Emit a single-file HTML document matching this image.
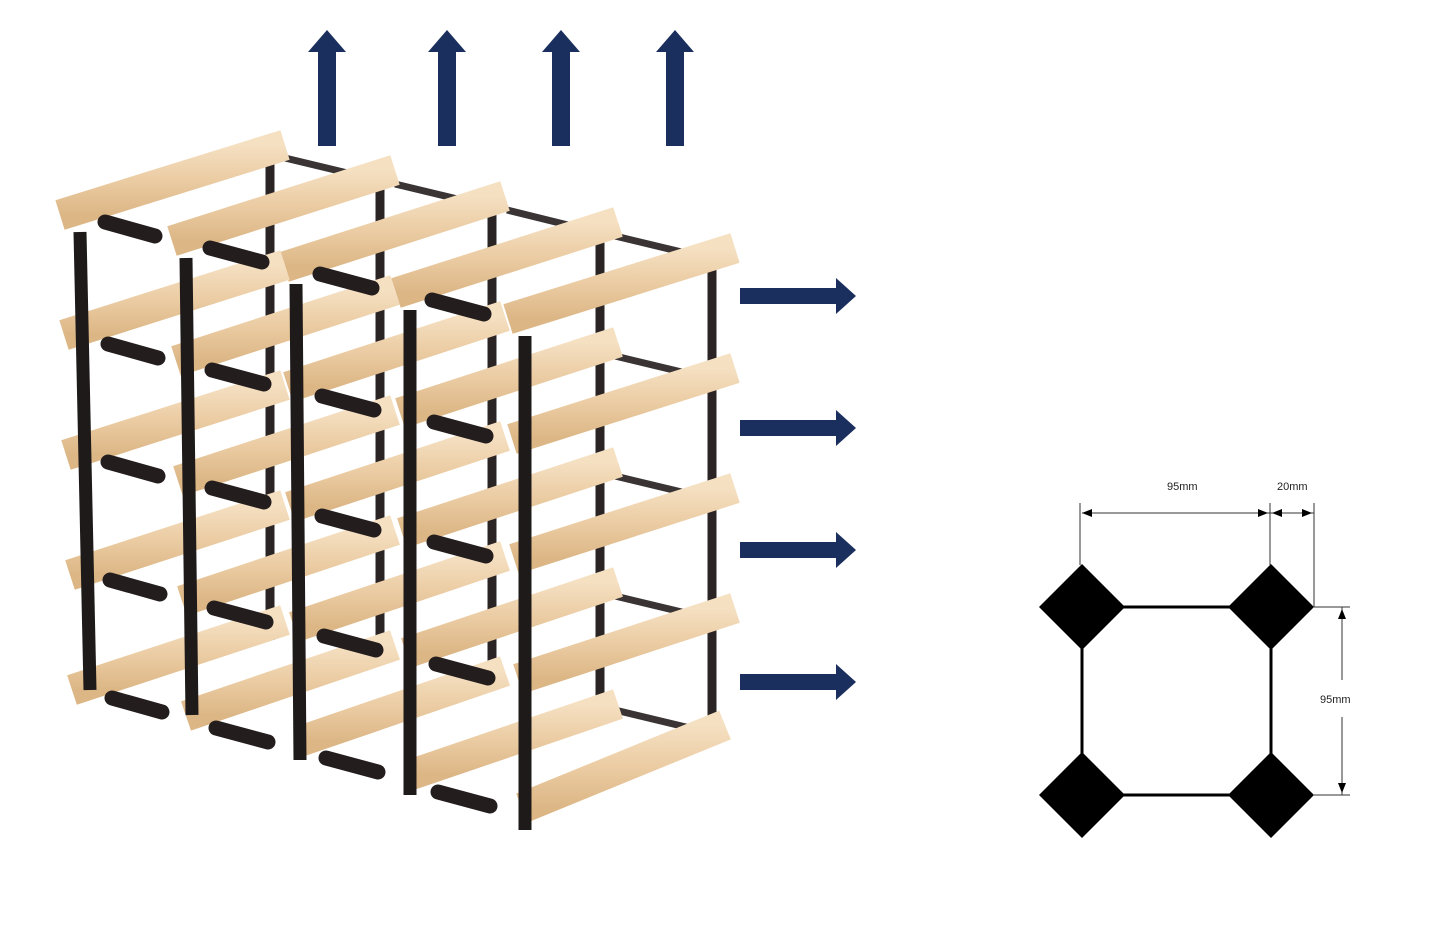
<!DOCTYPE html>
<html><head><meta charset="utf-8"><style>
html,body{margin:0;padding:0;background:#fff;}
svg{display:block;}
text{font-family:"Liberation Sans",sans-serif;font-size:11px;fill:#222;}
</style></head><body>
<svg width="1445" height="948" viewBox="0 0 1445 948" xmlns="http://www.w3.org/2000/svg">
<defs>
<linearGradient id="wood" x1="0" y1="0" x2="0" y2="1">
<stop offset="0" stop-color="#f5e0c2"/><stop offset="0.5" stop-color="#ebcca3"/><stop offset="1" stop-color="#dcb685"/>
</linearGradient>
</defs>
<g id="rack">
<g stroke="#2a2424" stroke-width="9">
<line x1="270" y1="140" x2="270" y2="640"/>
<line x1="380" y1="166" x2="380" y2="660"/>
<line x1="492" y1="192" x2="492" y2="690"/>
<line x1="600" y1="218" x2="600" y2="720"/>
<line x1="712" y1="250" x2="712" y2="740"/>
</g>
<g stroke="#3a3434" stroke-width="7">
<line x1="285" y1="158" x2="360" y2="176"/>
<line x1="395" y1="184" x2="470" y2="202"/>
<line x1="507" y1="210" x2="580" y2="228"/>
<line x1="615" y1="236" x2="690" y2="254"/>
<line x1="615" y1="356" x2="690" y2="374"/>
<line x1="615" y1="476" x2="690" y2="494"/>
<line x1="615" y1="596" x2="690" y2="614"/>
<line x1="615" y1="710" x2="690" y2="728"/>
</g>
<g stroke="url(#wood)" stroke-width="31" stroke-linecap="butt">
<line x1="60" y1="215" x2="285" y2="145"/>
<line x1="172" y1="241" x2="395" y2="170"/>
<line x1="284" y1="267" x2="505" y2="196"/>
<line x1="396" y1="293" x2="618" y2="222"/>
<line x1="508" y1="319" x2="735" y2="248"/>

<line x1="64" y1="335" x2="285" y2="265"/>
<line x1="176" y1="361" x2="395" y2="290"/>
<line x1="288" y1="387" x2="505" y2="316"/>
<line x1="400" y1="413" x2="618" y2="342"/>
<line x1="512" y1="439" x2="735" y2="368"/>

<line x1="66" y1="455" x2="285" y2="385"/>
<line x1="178" y1="481" x2="395" y2="410"/>
<line x1="290" y1="507" x2="505" y2="436"/>
<line x1="402" y1="533" x2="618" y2="462"/>
<line x1="514" y1="559" x2="735" y2="488"/>

<line x1="70" y1="575" x2="285" y2="505"/>
<line x1="182" y1="601" x2="395" y2="530"/>
<line x1="294" y1="627" x2="505" y2="556"/>
<line x1="406" y1="653" x2="618" y2="582"/>
<line x1="518" y1="679" x2="735" y2="608"/>

<line x1="72" y1="690" x2="285" y2="620"/>
<line x1="186" y1="716" x2="395" y2="645"/>
<line x1="298" y1="742" x2="505" y2="671"/>
<line x1="410" y1="775" x2="618" y2="704"/>
<line x1="522" y1="808" x2="725" y2="725"/>
</g>
<g stroke="#1f1a1a" stroke-width="13">
<line x1="80" y1="232" x2="90" y2="690"/>
<line x1="186" y1="258" x2="192" y2="715"/>
<line x1="296" y1="284" x2="300" y2="760"/>
<line x1="410" y1="310" x2="410" y2="795"/>
<line x1="525" y1="336" x2="525" y2="830"/>
</g>
<g stroke="#231d1d" stroke-width="15" stroke-linecap="round">
<line x1="105" y1="222" x2="155" y2="236"/>
<line x1="210" y1="248" x2="262" y2="262"/>
<line x1="320" y1="274" x2="372" y2="288"/>
<line x1="432" y1="300" x2="484" y2="314"/>
<line x1="108" y1="344" x2="158" y2="358"/>
<line x1="212" y1="370" x2="264" y2="384"/>
<line x1="322" y1="396" x2="374" y2="410"/>
<line x1="434" y1="422" x2="486" y2="436"/>
<line x1="108" y1="462" x2="158" y2="476"/>
<line x1="212" y1="488" x2="264" y2="502"/>
<line x1="322" y1="516" x2="374" y2="530"/>
<line x1="434" y1="542" x2="486" y2="556"/>
<line x1="110" y1="580" x2="160" y2="594"/>
<line x1="214" y1="608" x2="266" y2="622"/>
<line x1="324" y1="636" x2="376" y2="650"/>
<line x1="436" y1="664" x2="488" y2="678"/>
<line x1="112" y1="698" x2="162" y2="712"/>
<line x1="216" y1="728" x2="268" y2="742"/>
<line x1="326" y1="758" x2="378" y2="772"/>
<line x1="438" y1="792" x2="490" y2="806"/>
</g>
</g>
<g fill="#1b2f5e">
<rect x="318" y="50" width="18" height="96"/><polygon points="308,52 327,30 346,52"/>
<rect x="438" y="50" width="18" height="96"/><polygon points="428,52 447,30 466,52"/>
<rect x="552" y="50" width="18" height="96"/><polygon points="542,52 561,30 580,52"/>
<rect x="666" y="50" width="18" height="96"/><polygon points="656,52 675,30 694,52"/>
<rect x="740" y="288" width="98" height="16"/><polygon points="836,278 856,296 836,314"/>
<rect x="740" y="420" width="98" height="16"/><polygon points="836,410 856,428 836,446"/>
<rect x="740" y="542" width="98" height="16"/><polygon points="836,532 856,550 836,568"/>
<rect x="740" y="674" width="98" height="16"/><polygon points="836,664 856,682 836,700"/>
</g>
<g stroke="#000" stroke-width="3" fill="none">
<line x1="1082" y1="607" x2="1271" y2="607"/>
<line x1="1082" y1="795" x2="1271" y2="795"/>
<line x1="1082" y1="607" x2="1082" y2="795"/>
<line x1="1271" y1="607" x2="1271" y2="795"/>
</g>
<g fill="#000">
<polygon points="1082,564 1125,607 1082,650 1039,607"/>
<polygon points="1271,564 1314,607 1271,650 1228,607"/>
<polygon points="1082,752 1125,795 1082,838 1039,795"/>
<polygon points="1271,752 1314,795 1271,838 1228,795"/>
</g>
<g stroke="#333" stroke-width="1" fill="none">
<line x1="1080" y1="503" x2="1080" y2="565"/>
<line x1="1270" y1="503" x2="1270" y2="565"/>
<line x1="1314" y1="503" x2="1314" y2="607"/>
<line x1="1082" y1="513" x2="1270" y2="513"/>
<line x1="1270" y1="513" x2="1314" y2="513"/>
<line x1="1314" y1="607" x2="1350" y2="607"/>
<line x1="1314" y1="795" x2="1350" y2="795"/>
<line x1="1342" y1="607" x2="1342" y2="680"/>
<line x1="1342" y1="717" x2="1342" y2="795"/>
</g>
<g fill="#000">
<polygon points="1082,513 1092,509 1092,517"/>
<polygon points="1268,513 1258,509 1258,517"/>
<polygon points="1272,513 1282,509 1282,517"/>
<polygon points="1312,513 1302,509 1302,517"/>
<polygon points="1342,609 1338,619 1346,619"/>
<polygon points="1342,793 1338,783 1346,783"/>
</g>
<text x="1167" y="490">95mm</text>
<text x="1277" y="490">20mm</text>
<text x="1320" y="703">95mm</text>
</svg>
</body></html>
